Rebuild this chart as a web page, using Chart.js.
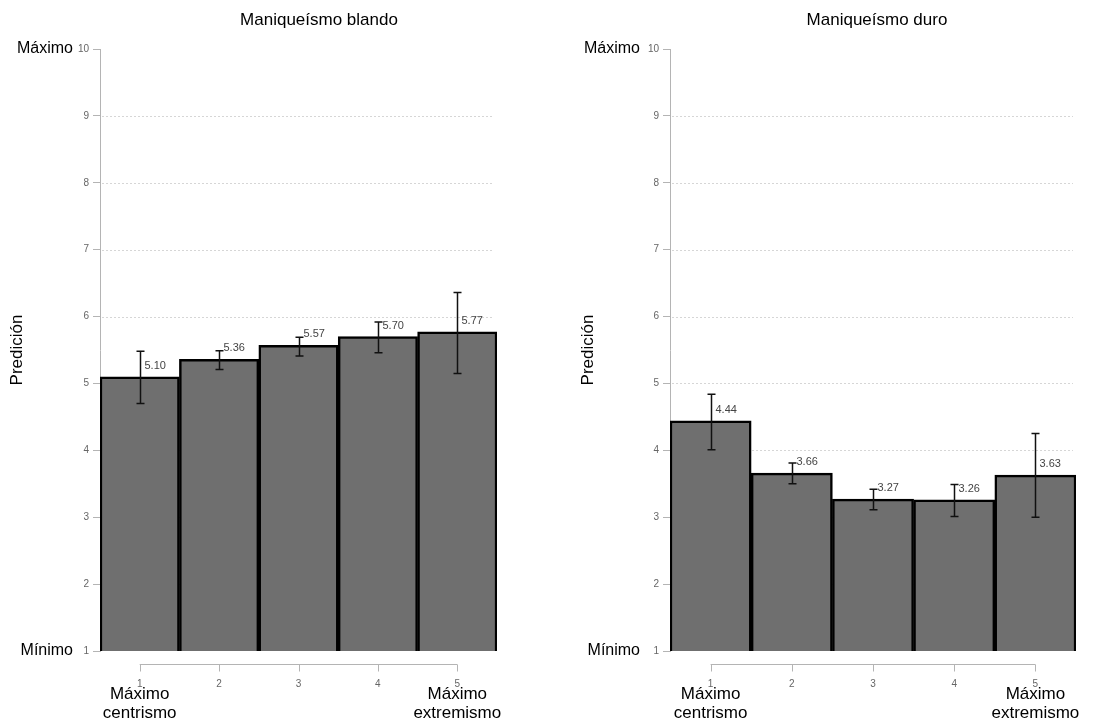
<!DOCTYPE html>
<html>
<head>
<meta charset="utf-8">
<script src="https://cdn.jsdelivr.net/npm/chart.js@4.4.1/dist/chart.umd.min.js"></script>
<style>
html, body { margin: 0; padding: 0; background: #fff; }
#wrap { position: relative; width: 1107px; height: 725px; overflow: hidden; }
canvas { position: absolute; top: 0; }
</style>
</head>
<body>
<div id="wrap">
  <canvas id="left" width="553" height="725" style="left:0"></canvas>
  <canvas id="right" width="554" height="725" style="left:553px"></canvas>
</div>
<script>
// datos
const categories = ['1', '2', '3', '4', '5'];
const yTicks = [1, 2, 3, 4, 5, 6, 7, 8, 9, 10];
const gridValues = [2, 3, 4, 5, 6, 7, 8, 9];

const blandoValues = [5.10, 5.36, 5.57, 5.70, 5.77];
const blandoLow = [4.70, 5.21, 5.41, 5.46, 5.15];
const blandoHigh = [5.48, 5.49, 5.69, 5.92, 6.36];

const duroValues = [4.44, 3.66, 3.27, 3.26, 3.63];
const duroLow = [4.01, 3.50, 3.11, 3.01, 3.00];
const duroHigh = [4.84, 3.81, 3.42, 3.49, 4.25];

const FONT = 'Arial, "Liberation Sans", sans-serif';

// plugin: rejilla punteada, barras de error, etiquetas y eje x estilo Stata
const panelPlugin = {
  id: 'panel',
  beforeDatasetsDraw(chart, args, opts) {
    const ctx = chart.ctx, a = chart.chartArea, y = chart.scales.y;
    ctx.save();
    ctx.strokeStyle = '#d6d6d6';
    ctx.lineWidth = 1;
    ctx.setLineDash([2, 2]);
    opts.grid.forEach(v => {
      const py = Math.round(y.getPixelForValue(v)) + 0.5;
      ctx.beginPath();
      ctx.moveTo(a.left + 2, py);
      ctx.lineTo(a.right - 3, py);
      ctx.stroke();
    });
    ctx.restore();
  },
  afterDatasetsDraw(chart, args, opts) {
    const ctx = chart.ctx, y = chart.scales.y;
    const meta = chart.getDatasetMeta(0);
    ctx.save();
    meta.data.forEach((bar, i) => {
      const x = Math.round(bar.x) + 0.5;
      const hi = y.getPixelForValue(opts.high[i]);
      const lo = y.getPixelForValue(opts.low[i]);
      ctx.strokeStyle = '#111';
      ctx.lineWidth = 1.5;
      ctx.beginPath();
      ctx.moveTo(x, hi); ctx.lineTo(x, lo);
      ctx.moveTo(x - 4, hi); ctx.lineTo(x + 4, hi);
      ctx.moveTo(x - 4, lo); ctx.lineTo(x + 4, lo);
      ctx.stroke();
      // etiqueta del valor
      const v = chart.data.datasets[0].data[i];
      ctx.fillStyle = '#444';
      ctx.font = '11px ' + FONT;
      ctx.textAlign = 'left';
      ctx.textBaseline = 'middle';
      ctx.fillText(v.toFixed(2), x + 4, y.getPixelForValue(v) - 11);
    });
    ctx.restore();
  },
  afterDraw(chart, args, opts) {
    const ctx = chart.ctx, a = chart.chartArea, y = chart.scales.y, xs = chart.scales.x;
    ctx.save();
    // título
    ctx.fillStyle = '#000';
    ctx.font = '17px ' + FONT;
    ctx.textAlign = 'center';
    ctx.textBaseline = 'middle';
    ctx.fillText(opts.title, opts.titleX, 20);
    // Máximo / Mínimo
    ctx.font = '16px ' + FONT;
    ctx.textAlign = 'right';
    ctx.fillText('Máximo', opts.sideX, y.getPixelForValue(10));
    ctx.fillText('Mínimo', opts.sideX, y.getPixelForValue(1));
    // eje x separado
    const ay = a.bottom + 13.5;
    const x0 = xs.getPixelForValue(0), x4 = xs.getPixelForValue(categories.length - 1);
    ctx.strokeStyle = '#b4b4b4';
    ctx.lineWidth = 1;
    ctx.beginPath();
    ctx.moveTo(x0, ay); ctx.lineTo(x4, ay);
    categories.forEach((c, i) => {
      const px = Math.round(xs.getPixelForValue(i)) + 0.5;
      ctx.moveTo(px, ay); ctx.lineTo(px, ay + 7);
    });
    ctx.stroke();
    // extremos de la escala
    ctx.fillStyle = '#000';
    ctx.font = '17px ' + FONT;
    ctx.textAlign = 'center';
    ctx.fillText('Máximo', x0, a.bottom + 43);
    ctx.fillText('centrismo', x0, a.bottom + 62);
    ctx.fillText('Máximo', x4, a.bottom + 43);
    ctx.fillText('extremismo', x4, a.bottom + 62);
    ctx.restore();
  }
};

function makePanel(id, cfg) {
  return new Chart(document.getElementById(id), {
    type: 'bar',
    data: {
      labels: categories,
      datasets: [{
        data: cfg.values,
        backgroundColor: '#6f6f6f',
        borderColor: '#000',
        borderWidth: 2.5,
        borderSkipped: false,
        barPercentage: 1,
        categoryPercentage: 1
      }]
    },
    options: {
      responsive: false,
      animation: false,
      layout: { padding: { top: 49, right: cfg.padRight, bottom: 0, left: 0 } },
      plugins: {
        legend: { display: false },
        tooltip: { enabled: false },
        panel: {
          title: cfg.title, titleX: cfg.titleX, sideX: cfg.sideX,
          low: cfg.low, high: cfg.high, grid: gridValues
        }
      },
      scales: {
        x: {
          grid: { display: false },
          border: { display: false },
          ticks: { color: '#666', font: { family: FONT, size: 10 }, padding: 19 },
          afterFit(scale) { scale.height = 74; }
        },
        y: {
          min: 1, max: 10,
          afterBuildTicks(scale) { scale.ticks = yTicks.map(v => ({ value: v })); },
          grid: { drawOnChartArea: false, drawTicks: true, tickLength: 7, tickColor: '#b4b4b4' },
          border: { display: true, color: '#b4b4b4', width: 1 },
          ticks: { color: '#666', font: { family: FONT, size: 10 }, padding: 4 },
          title: { display: true, text: 'Predición', color: '#000', font: { family: FONT, size: 17 }, padding: { top: cfg.yTitlePad, bottom: 0 } },
          afterFit(scale) { scale.width = cfg.yWidth; }
        }
      }
    },
    plugins: [panelPlugin]
  });
}

makePanel('left', {
  title: 'Maniqueísmo blando', titleX: 319, sideX: 73,
  values: blandoValues, low: blandoLow, high: blandoHigh,
  padRight: 56, yWidth: 100, yTitlePad: 7
});

makePanel('right', {
  title: 'Maniqueísmo duro', titleX: 324, sideX: 87,
  values: duroValues, low: duroLow, high: duroHigh,
  padRight: 31, yWidth: 117, yTitlePad: 25
});
</script>
</body>
</html>
